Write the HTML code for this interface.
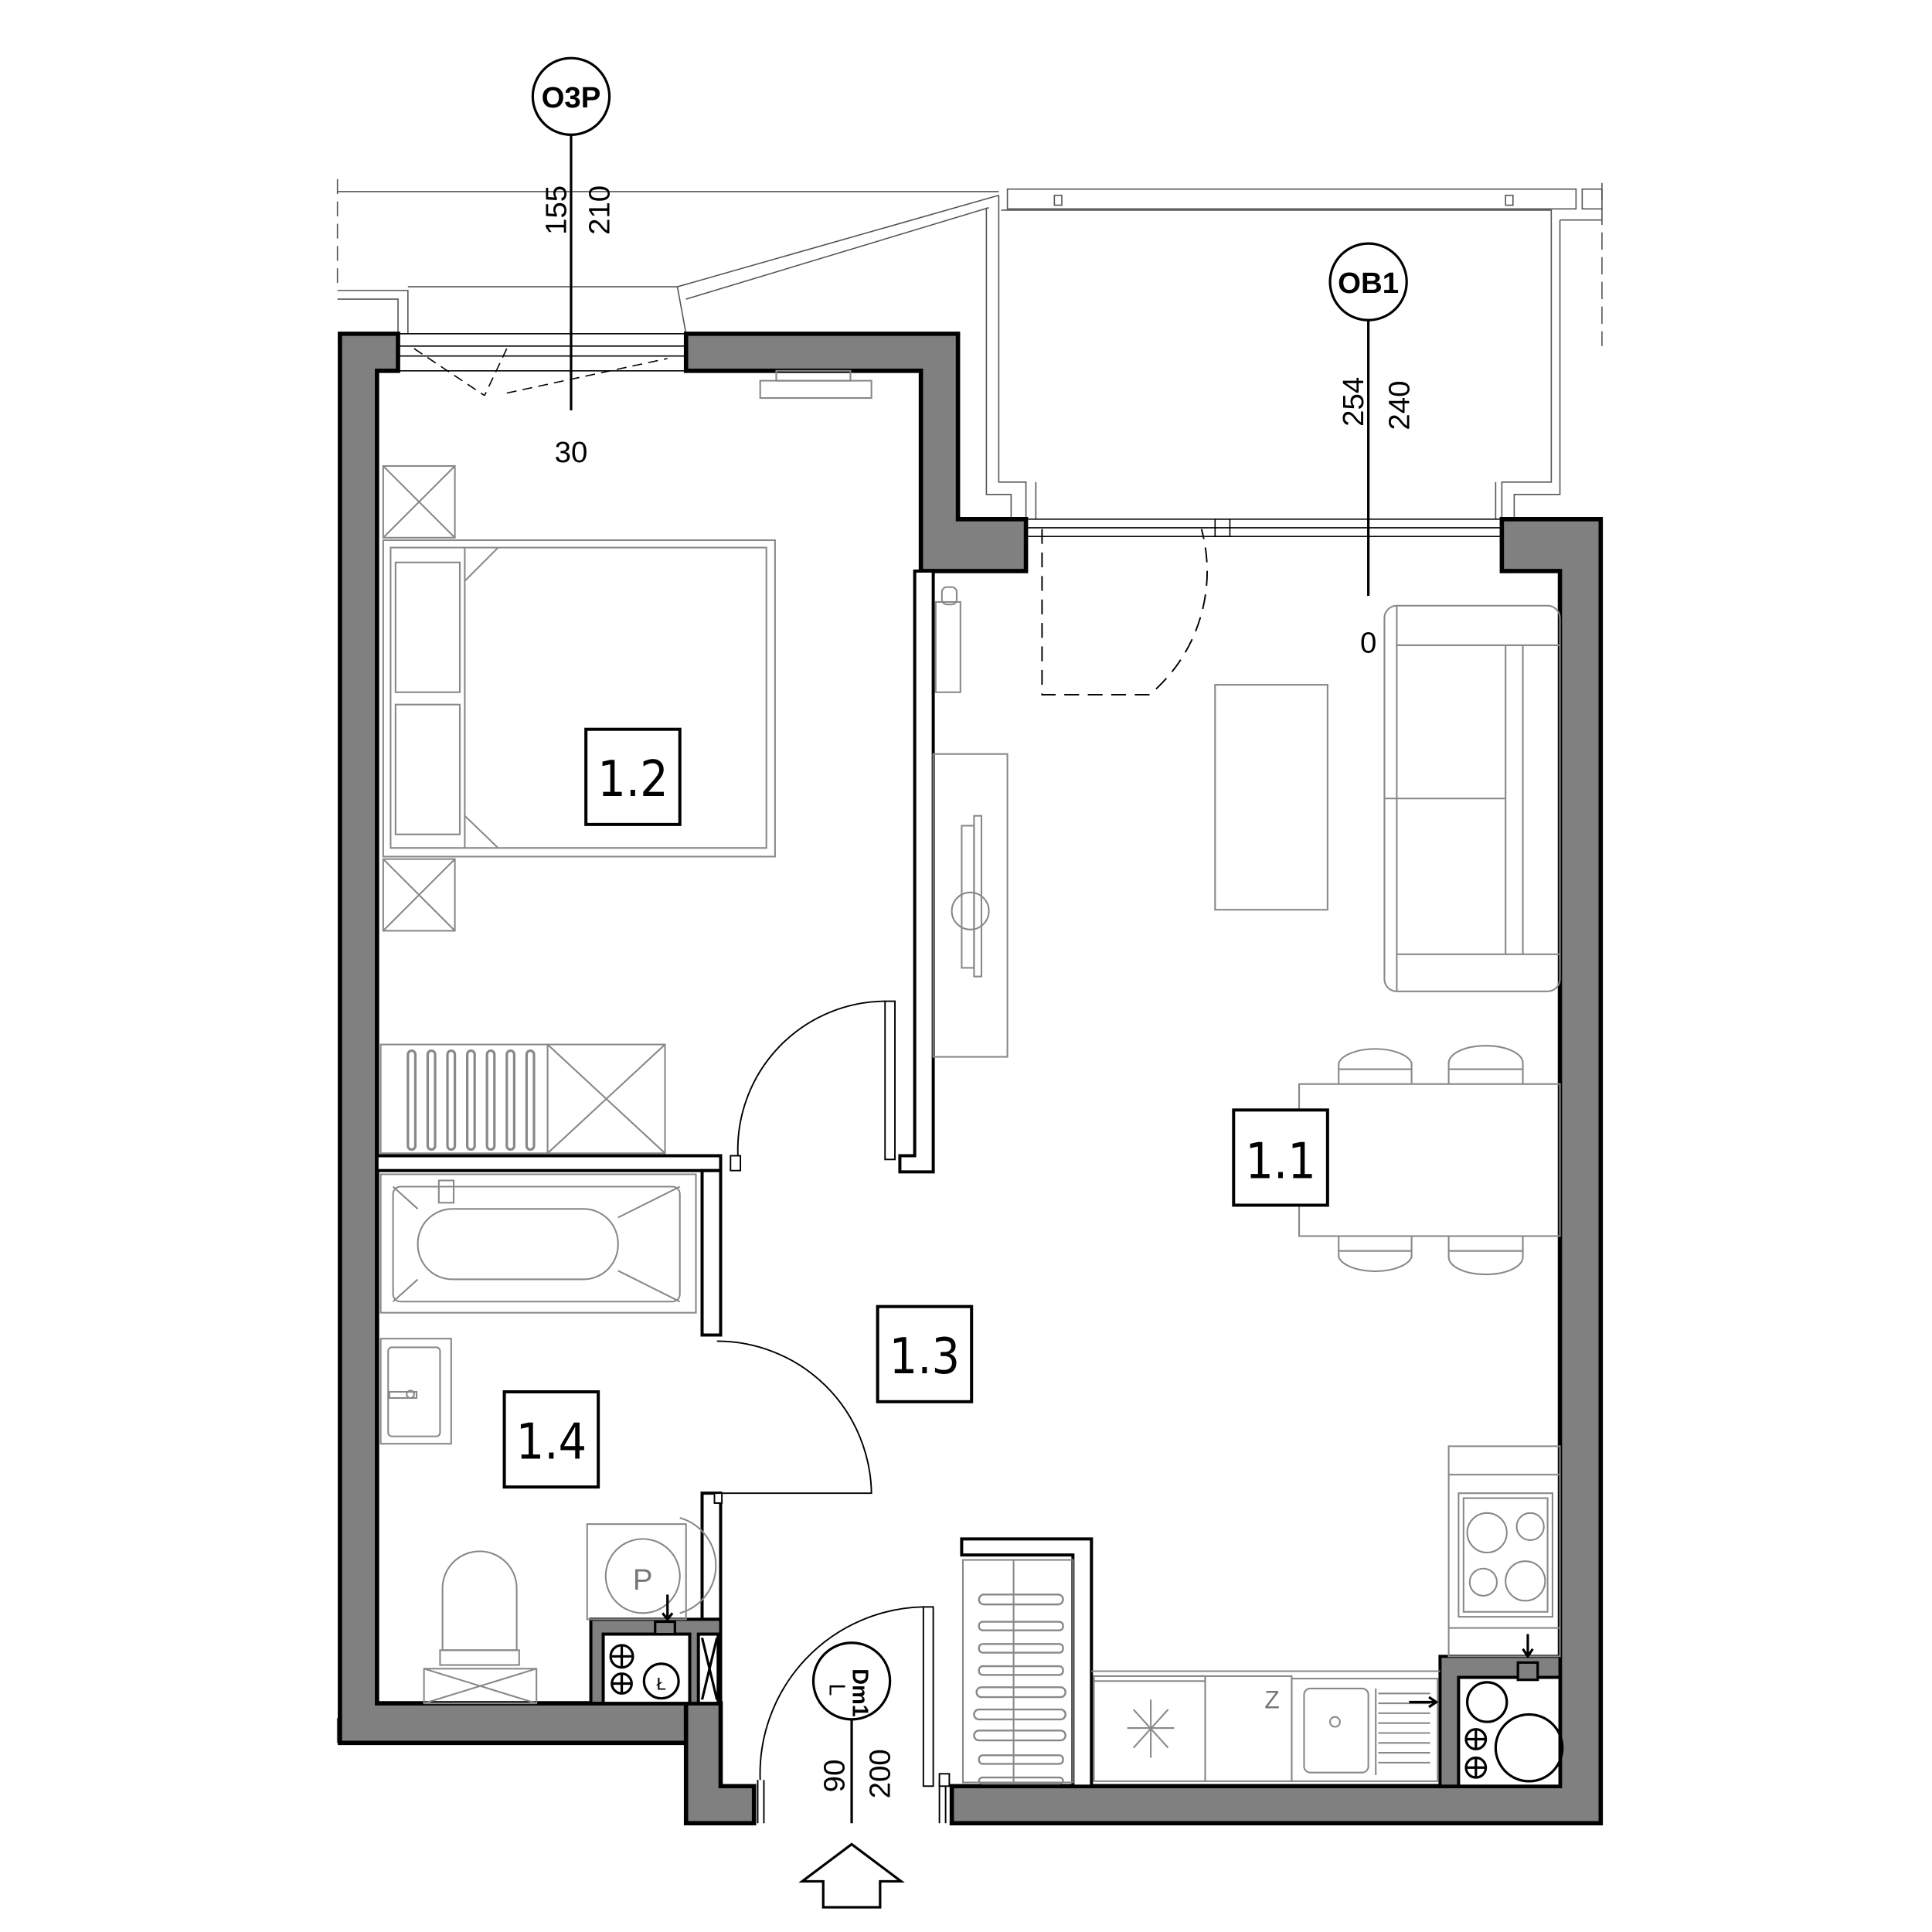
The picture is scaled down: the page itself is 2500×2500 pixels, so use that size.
<!DOCTYPE html>
<html><head><meta charset="utf-8"><style>html,body{margin:0;padding:0;background:#fff}svg{display:block}</style></head>
<body>
<svg width="2500" height="2500" viewBox="0 0 1563 1563" xmlns="http://www.w3.org/2000/svg" font-family="Liberation Sans, sans-serif">
<rect width="1563" height="1563" fill="#fff"/>
<g stroke="#555" stroke-width="1" fill="none">
<line x1="273" y1="155" x2="808" y2="155"/>
<line x1="273" y1="145" x2="273" y2="230" stroke-dasharray="12,6"/>
<polyline points="273,235 330,235 330,270"/>
<polyline points="273,242 322,242 322,270"/>
<polyline points="330,232 548,232 555,270"/>
<line x1="548" y1="232" x2="808" y2="158"/>
<line x1="555" y1="242" x2="800" y2="168"/>
<rect x="815" y="153" width="460" height="16"/>
<rect x="853" y="158" width="6" height="8"/><rect x="1218" y="158" width="6" height="8"/>
<rect x="1280" y="153" width="16" height="16"/>
<line x1="1296" y1="148" x2="1296" y2="280" stroke-dasharray="14,6"/>
<polyline points="808,158 808,390 830,390 830,420"/>
<polyline points="798,168 798,400 818,400 818,420"/>
<polyline points="810,170 1255,170 1255,390 1215,390 1215,420"/>
<polyline points="1262,178 1296,178"/>
<polyline points="1262,178 1262,400 1225,400 1225,420"/>
<line x1="838" y1="390" x2="838" y2="420"/>
<line x1="1210" y1="390" x2="1210" y2="420"/>
<line x1="1296" y1="1340" x2="1296" y2="1470"/>
<line x1="273" y1="1390" x2="273" y2="1410"/>
</g>
<g fill="#808080" stroke="#000" stroke-width="3.5" stroke-linejoin="miter">
<polygon points="275,270 322,270 322,300 305,300 305,1378 555,1378 555,1410 275,1410"/>
<polygon points="555,1378 583,1378 583,1445 610,1445 610,1475 555,1475"/>
<polygon points="555,270 775,270 775,420 830,420 830,462 745,462 745,300 555,300"/>
<polygon points="1215,420 1295,420 1295,1475 770,1475 770,1445 1262,1445 1262,462 1215,462"/>
</g>
<g stroke="#000" stroke-width="1.5" fill="none">
<rect x="322" y="270" width="233" height="30" stroke-width="1"/>
<line x1="322" y1="280" x2="555" y2="280" stroke-width="1"/>
<line x1="322" y1="288" x2="555" y2="288" stroke-width="1"/>
<rect x="830" y="420" width="385" height="14" stroke-width="1"/>
<line x1="830" y1="427" x2="1215" y2="427" stroke-width="1"/>
<rect x="983" y="420" width="12" height="14" stroke-width="1"/>
<path d="M335,282 L392,320 M410,282 L392,320 M410,318 L540,290" stroke-dasharray="8,5" stroke-width="1"/>
<path d="M843,428 L843,562 L930,562 A130,130 0 0 0 972,428" stroke-dasharray="12,7" stroke-width="1.2"/>
</g>
<g fill="#fff" stroke="#000" stroke-width="2.5">
<polygon points="740,462 755,462 755,948 728,948 728,935 740,935"/>
<rect x="305" y="935" width="278" height="12"/>
<polygon points="568,947 583,947 583,1080 568,1080"/>
<polygon points="568,1208 583,1208 583,1310 568,1310"/>
<rect x="478" y="1310" width="105" height="68" fill="#808080"/>
<rect x="488" y="1322" width="70" height="56"/>
<rect x="565" y="1322" width="16" height="56"/>
<polygon points="778,1245 883,1245 883,1445 868,1445 868,1258 778,1258"/>
<rect x="1165" y="1340" width="97" height="105" fill="#808080"/>
<rect x="1180" y="1357" width="82" height="88"/>
</g>
<g stroke="#000" stroke-width="1.2" fill="none">
<rect x="716" y="810" width="8" height="128" fill="#fff"/>
<path d="M716,810 A120,120 0 0 0 597,935"/>
<rect x="591" y="935" width="8" height="12" fill="#fff"/>
<path d="M580,1085 A125,125 0 0 1 705,1208 L583,1208"/>
<rect x="578" y="1208" width="6" height="8" fill="#fff"/>
<rect x="747" y="1300" width="8" height="145" fill="#fff"/>
<path d="M747,1300 A135,135 0 0 0 615,1440"/>
<line x1="613" y1="1440" x2="613" y2="1475"/><line x1="618" y1="1440" x2="618" y2="1475"/>
<line x1="760" y1="1440" x2="760" y2="1475"/><line x1="765" y1="1440" x2="765" y2="1475"/>
<rect x="760" y="1435" width="8" height="10" fill="#fff"/>
</g>
<g stroke="#888" stroke-width="1.3" fill="none">
<rect x="310" y="377" width="58" height="58"/><path d="M310,377 L368,435 M368,377 L310,435"/>
<rect x="310" y="695" width="58" height="58"/><path d="M310,695 L368,753 M368,695 L310,753"/>
<rect x="310" y="437" width="317" height="256"/>
<rect x="316" y="443" width="304" height="243"/>
<rect x="320" y="455" width="52" height="105"/><rect x="320" y="570" width="52" height="105"/>
<path d="M376,443 L376,686 M376,470 L403,443 M376,660 L403,686"/>
<rect x="615" y="308" width="90" height="14"/><rect x="628" y="300" width="60" height="8"/>
<rect x="308" y="845" width="230" height="88"/><line x1="443" y1="845" x2="443" y2="933"/>
<path d="M443,845 L538,933 M538,845 L443,933"/>
<g stroke-width="2"><rect x="330" y="850" width="6" height="80" rx="3"/><rect x="346" y="850" width="6" height="80" rx="3"/><rect x="362" y="850" width="6" height="80" rx="3"/><rect x="378" y="850" width="6" height="80" rx="3"/><rect x="394" y="850" width="6" height="80" rx="3"/><rect x="410" y="850" width="6" height="80" rx="3"/><rect x="426" y="850" width="6" height="80" rx="3"/></g>
<rect x="308" y="950" width="255" height="112"/>
<rect x="318" y="960" width="232" height="93" rx="6"/>
<rect x="338" y="978" width="162" height="57" rx="28"/>
<path d="M318,960 L338,978 M550,960 L500,985 M550,1053 L500,1028 M318,1053 L338,1035"/>
<rect x="355" y="955" width="12" height="18"/>
<rect x="308" y="1083" width="57" height="85"/><rect x="314" y="1090" width="42" height="72" rx="3"/>
<rect x="315" y="1126" width="22" height="5"/><circle cx="332" cy="1128" r="3"/>
<rect x="475" y="1233" width="80" height="77"/><circle cx="520" cy="1275" r="30"/>
<path d="M550,1228 A40,40 0 0 1 550,1305"/>
<path d="M358,1335 L358,1285 A30,30 0 0 1 418,1285 L418,1335 Z"/>
<rect x="356" y="1335" width="64" height="12"/>
<rect x="343" y="1350" width="91" height="28"/><path d="M343,1350 L434,1378 M434,1350 L343,1378"/>
<rect x="755" y="610" width="60" height="245"/>
<rect x="778" y="668" width="10" height="115"/><rect x="788" y="660" width="6" height="130"/>
<circle cx="785" cy="737" r="15"/>
<rect x="757" y="487" width="20" height="73"/><rect x="762" y="475" width="12" height="14" rx="4"/>
<rect x="983" y="554" width="91" height="182"/>
<rect x="1120" y="490" width="142" height="312" rx="10"/>
<line x1="1130" y1="522" x2="1262" y2="522"/><line x1="1130" y1="772" x2="1262" y2="772"/>
<path d="M1130,490 L1130,802 M1218,522 L1218,772 M1232,522 L1232,772 M1120,646 L1218,646"/>
<rect x="1051" y="877" width="211" height="123"/>
<path d="M1083,877 L1083,860 A30,14 0 0 1 1142,860 L1142,877 M1172,877 L1172,860 A30,14 0 0 1 1232,860 L1232,877"/>
<path d="M1083,1000 L1083,1017 A30,14 0 0 0 1142,1017 L1142,1000 M1172,1000 L1172,1017 A30,14 0 0 0 1232,1017 L1232,1000"/>
<line x1="1083" y1="1012" x2="1142" y2="1012"/><line x1="1172" y1="1012" x2="1232" y2="1012"/>
<line x1="1083" y1="865" x2="1142" y2="865"/><line x1="1172" y1="865" x2="1232" y2="865"/>
<rect x="1172" y="1170" width="90" height="170"/>
<line x1="1172" y1="1193" x2="1262" y2="1193"/><line x1="1172" y1="1317" x2="1262" y2="1317"/>
<rect x="1180" y="1208" width="76" height="100"/><rect x="1184" y="1212" width="68" height="92"/>
<circle cx="1203" cy="1240" r="16"/><circle cx="1238" cy="1235" r="11"/><circle cx="1200" cy="1280" r="11"/><circle cx="1234" cy="1279" r="16"/>
<rect x="779" y="1262" width="89" height="180"/><line x1="820" y1="1262" x2="820" y2="1442"/>
<g stroke-width="1.5"><rect x="792" y="1290" width="68" height="8" rx="4"/><rect x="792" y="1312" width="68" height="7" rx="3"/><rect x="792" y="1330" width="68" height="7" rx="3"/><rect x="792" y="1348" width="68" height="7" rx="3"/><rect x="790" y="1365" width="72" height="8" rx="4"/><rect x="788" y="1383" width="74" height="8" rx="4"/><rect x="788" y="1400" width="74" height="8" rx="4"/><rect x="792" y="1420" width="68" height="7" rx="3"/><rect x="792" y="1438" width="68" height="5" rx="3"/></g>
<line x1="883" y1="1352" x2="1165" y2="1352"/>
<rect x="885" y="1356" width="90" height="85"/><rect x="885" y="1356" width="90" height="4"/>
<path d="M931,1375 L931,1422 M912,1398 L950,1398 M917,1383 L945,1414 M945,1383 L917,1414"/>
<rect x="975" y="1356" width="70" height="85"/>
<rect x="1045" y="1358" width="118" height="83"/><rect x="1055" y="1366" width="52" height="68" rx="5"/>
<circle cx="1080" cy="1393" r="4"/>
<path d="M1115,1370 h42 M1115,1378 h42 M1115,1386 h42 M1115,1394 h42 M1115,1402 h42 M1115,1410 h42 M1115,1418 h42 M1115,1426 h42 M1113,1366 v70"/>
</g>
<text x="1023" y="1382" font-size="20" fill="#777">Z</text>
<g stroke="#000" stroke-width="2" fill="none">
<circle cx="1203" cy="1377" r="16"/><circle cx="1237" cy="1414" r="27"/>
<circle cx="1194" cy="1407" r="8"/><circle cx="1194" cy="1430" r="8"/>
<path d="M1186,1407 h16 M1194,1399 v16 M1186,1430 h16 M1194,1422 v16"/>
<rect x="1228" y="1345" width="16" height="14" fill="#808080"/>
<path d="M1236,1322 v18 M1232,1334 l4,6 l4,-6 M1140,1377 h22 M1156,1373 l6,4 l-6,4"/>
<circle cx="503" cy="1340" r="9"/><circle cx="503" cy="1362" r="8"/><circle cx="535" cy="1360" r="14"/>
<path d="M495,1340 h16 M503,1332 v16 M495,1362 h16 M503,1354 v16"/>
<rect x="530" y="1312" width="16" height="10" fill="#808080"/>
<path d="M540,1290 v20 M536,1305 l4,5 l4,-5"/>
<path d="M568,1325 L580,1375 M580,1325 L568,1375"/>
</g>
<text x="535" y="1367" font-size="14" text-anchor="middle">Ł</text>
<text x="520" y="1286" font-size="24" text-anchor="middle" fill="#777">P</text>
<g fill="#fff" stroke="#000" stroke-width="2.5">
<rect x="474" y="590" width="76" height="77"/><rect x="998" y="898" width="76" height="77"/>
<rect x="710" y="1057" width="76" height="77"/><rect x="408" y="1126" width="76" height="77"/>
</g>
<g font-size="40" text-anchor="middle" font-family="DejaVu Sans Condensed, Liberation Sans Narrow, sans-serif">
<text x="512" y="644">1.2</text><text x="1036" y="953">1.1</text><text x="748" y="1111">1.3</text><text x="446" y="1180">1.4</text>
</g>
<g stroke="#000" stroke-width="2" fill="#fff">
<line x1="462" y1="108" x2="462" y2="332"/><circle cx="462" cy="78" r="31"/>
<line x1="1107" y1="258" x2="1107" y2="482"/><circle cx="1107" cy="228" r="31"/>
<line x1="689" y1="1390" x2="689" y2="1475"/><circle cx="689" cy="1360" r="31"/>
<polygon points="649,1522 689,1492 729,1522 712,1522 712,1543 666,1543 666,1522"/>
</g>
<g font-size="24" text-anchor="middle" font-weight="bold">
<text x="462" y="87">O3P</text><text x="1107" y="237">OB1</text>
</g>
<g font-size="24">
<text x="462" y="374" text-anchor="middle">30</text>
<text x="1107" y="528" text-anchor="middle">0</text>
<text transform="translate(458,190) rotate(-90)">155</text>
<text transform="translate(493,190) rotate(-90)">210</text>
<text transform="translate(1103,345) rotate(-90)">254</text>
<text transform="translate(1140,348) rotate(-90)">240</text>
<text transform="translate(683,1450) rotate(-90)">90</text>
<text transform="translate(720,1455) rotate(-90)">200</text>
<text transform="translate(690,1350) rotate(90)" font-size="18" font-weight="bold">Dm1</text>
<text transform="translate(671,1362) rotate(90)" font-size="18">L</text>
</g>
</svg>
</body></html>
